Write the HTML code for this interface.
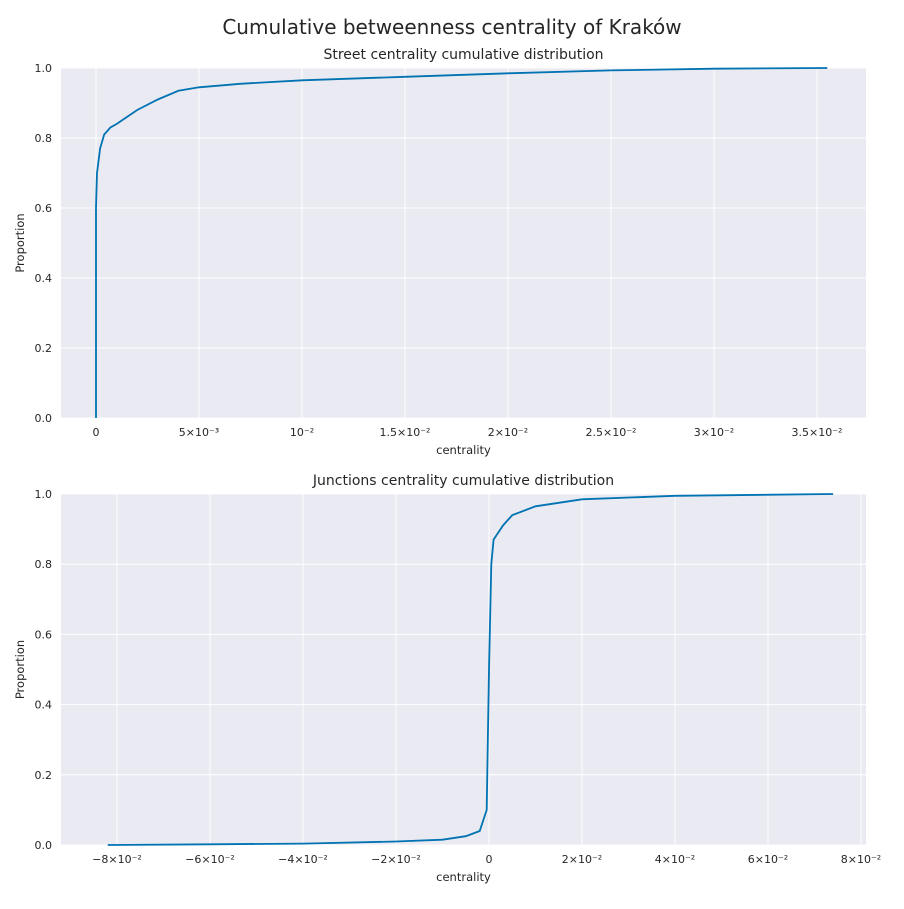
<!DOCTYPE html>
<html><head><meta charset="utf-8"><style>
body{margin:0;background:#fff;font-family:"Liberation Sans","DejaVu Sans",sans-serif}
svg text{font-family:"DejaVu Sans","Liberation Sans",sans-serif;fill:#262626}
</style></head><body>
<svg width="904" height="904" xmlns="http://www.w3.org/2000/svg">
<text x="452" y="34" text-anchor="middle" font-size="20">Cumulative betweenness centrality of Kraków</text>
<g id="p1"></g>
<g id="p2"></g>
</svg>
<script>
// Street data (x in units of 1e-3)
const streetX=[0,0,0.05,0.2,0.4,0.7,1,1.5,2,3,4,5,7,10,15,20,25,30,35.5];
const streetY=[0,0.6,0.7,0.77,0.81,0.83,0.84,0.86,0.88,0.91,0.935,0.945,0.955,0.965,0.975,0.985,0.993,0.998,1.0];
const streetTicks=[0,5,10,15,20,25,30,35];
const streetTickLabels=["0","5\u00d710\u207b\u00b3","10\u207b\u00b2","1.5\u00d710\u207b\u00b2","2\u00d710\u207b\u00b2","2.5\u00d710\u207b\u00b2","3\u00d710\u207b\u00b2","3.5\u00d710\u207b\u00b2"];
// Junction data (x in units of 1e-2)
const juncX=[-8.2,-6,-4,-2,-1,-0.5,-0.2,-0.05,0,0.05,0.1,0.3,0.5,1,2,4,7.4];
const juncY=[0,0.002,0.004,0.01,0.015,0.025,0.04,0.1,0.5,0.8,0.87,0.91,0.94,0.965,0.985,0.995,1.0];
const juncTicks=[-8,-6,-4,-2,0,2,4,6,8];
const juncTickLabels=["\u22128\u00d710\u207b\u00b2","\u22126\u00d710\u207b\u00b2","\u22124\u00d710\u207b\u00b2","\u22122\u00d710\u207b\u00b2","0","2\u00d710\u207b\u00b2","4\u00d710\u207b\u00b2","6\u00d710\u207b\u00b2","8\u00d710\u207b\u00b2"];
const yTicks=[0,0.2,0.4,0.6,0.8,1.0];
const NS="http://www.w3.org/2000/svg";
function mk(p,t,a){const e=document.createElementNS(NS,t);for(const k in a)e.setAttribute(k,a[k]);p.appendChild(e);return e;}
function panel(g,top,bottom,title,x0px,x0v,pxPer,xs,ys,ticks,labels,tag){
 const L=61,R=866;
 const sx=v=>x0px+(v-x0v)*pxPer, sy=v=>bottom-v*(bottom-top);
 const bg=mk(g,'rect',{x:L,y:top,width:R-L,height:bottom-top,fill:'#eaeaf2'});
 
 
 ticks.forEach((t,i)=>{const x=sx(t);
  const l=mk(g,'line',{x1:x,x2:x,y1:top,y2:bottom,stroke:'#fff','stroke-width':1});
  
  
  const tx=mk(g,'text',{x:x,y:bottom+18,'text-anchor':'middle','font-size':11});
  tx.textContent=labels[i];
  
  });
 yTicks.forEach(t=>{const y=sy(t);
  const l=mk(g,'line',{x1:L,x2:R,y1:y,y2:y,stroke:'#fff','stroke-width':1});
  
  
  const tx=mk(g,'text',{x:L-9,y:y+4,'text-anchor':'end','font-size':11});
  tx.textContent=t.toFixed(1);
  
  });
 const d=xs.map((v,i)=>(i?'L':'M')+sx(v).toFixed(1)+','+sy(ys[i]).toFixed(1)).join('');
 const p=mk(g,'path',{d:d,fill:'none',stroke:'#0173b2','stroke-width':1.8});
 
 
 const t=mk(g,'text',{x:(L+R)/2,y:top-9,'text-anchor':'middle','font-size':14});t.textContent=title;
 
 
 const xl=mk(g,'text',{x:(L+R)/2,y:bottom+36,'text-anchor':'middle','font-size':11.5});xl.textContent='centrality';
 
 
 const yl=mk(g,'text',{x:0,y:0,'text-anchor':'middle','font-size':11.5,transform:`translate(24,${(top+bottom)/2}) rotate(-90)`});yl.textContent='Proportion';
 
 
}
panel(document.getElementById('p1'),68,418,'Street centrality cumulative distribution',96,0,20.6,streetX,streetY,streetTicks,streetTickLabels,'street');
panel(document.getElementById('p2'),494,845,'Junctions centrality cumulative distribution',489,0,46.5,juncX,juncY,juncTicks,juncTickLabels,'junction');
</script>
</body></html>
